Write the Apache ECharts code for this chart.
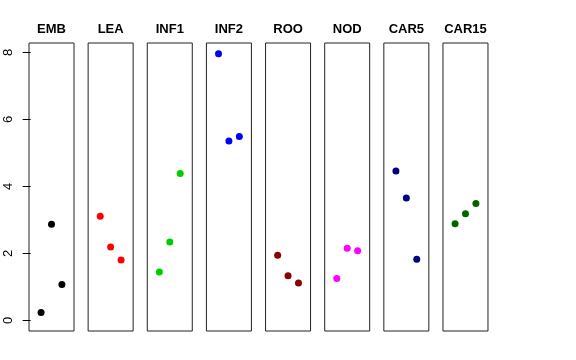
<!DOCTYPE html>
<html><head><meta charset="utf-8">
<script src="https://cdn.jsdelivr.net/npm/echarts@6/dist/echarts.min.js"></script>
<style>html,body{margin:0;padding:0;background:#fff}#c{width:576px;height:360px}</style>
</head><body><div id="c"></div>
<script>
var panels = ['EMB','LEA','INF1','INF2','ROO','NOD','CAR5','CAR15'];
var colors = ['#000000','#FF0000','#00CD00','#0000FF','#8B0000','#FF00FF','#000080','#006400'];
var xPos = [1, 2, 3];
var EMB   = [0.23, 2.87, 1.07];
var LEA   = [3.11, 2.19, 1.80];
var INF1  = [1.44, 2.34, 4.38];
var INF2  = [7.96, 5.35, 5.49];
var ROO   = [1.94, 1.33, 1.11];
var NOD   = [1.25, 2.15, 2.08];
var CAR5  = [4.46, 3.65, 1.82];
var CAR15 = [2.88, 3.18, 3.49];
var values = [EMB, LEA, INF1, INF2, ROO, NOD, CAR5, CAR15];
var yTicks = [0, 2, 4, 6, 8];

(function () {
var chart = echarts.init(document.getElementById('c'), null, {renderer:'canvas'});
var grids = [], xAxes = [], yAxes = [], series = [], titles = [];
var left0 = 29, step = 59.14, w = 45, gTop = 43, h = 288;
for (var i = 0; i < panels.length; i++) {
  var L = left0 + i * step;
  grids.push({left: L, top: gTop, width: w, height: h, show: true, borderColor: '#222', borderWidth: 1, backgroundColor: 'transparent'});
  xAxes.push({gridIndex: i, type: 'value', min: -0.16, max: 4.16, show: false});
  yAxes.push({gridIndex: i, type: 'value', min: -0.32, max: 8.28, show: i === 0,
    axisLine: {show: false}, splitLine: {show: false},
    axisTick: {show: true, length: 8, lineStyle: {color: '#000', width: 1}, customValues: yTicks},
    axisLabel: {show: true, rotate: 90, margin: 14, color: '#000', fontSize: 13, fontFamily: 'Liberation Sans, Arial, sans-serif', customValues: yTicks}
  });
  series.push({type: 'scatter', xAxisIndex: i, yAxisIndex: i, symbol: 'circle', symbolSize: 7,
    itemStyle: {color: colors[i], opacity: 1}, silent: true,
    data: xPos.map(function (x, k) { return [x, values[i][k]]; })});
  titles.push({text: panels[i], left: L + w / 2, top: 23, textAlign: 'center', padding: 0,
    textStyle: {fontSize: 13, fontWeight: 'bold', color: '#000', fontFamily: 'Liberation Sans, Arial, sans-serif'}});
}
chart.setOption({animation: false, title: titles, grid: grids, xAxis: xAxes, yAxis: yAxes, series: series});
})();
</script></body></html>
